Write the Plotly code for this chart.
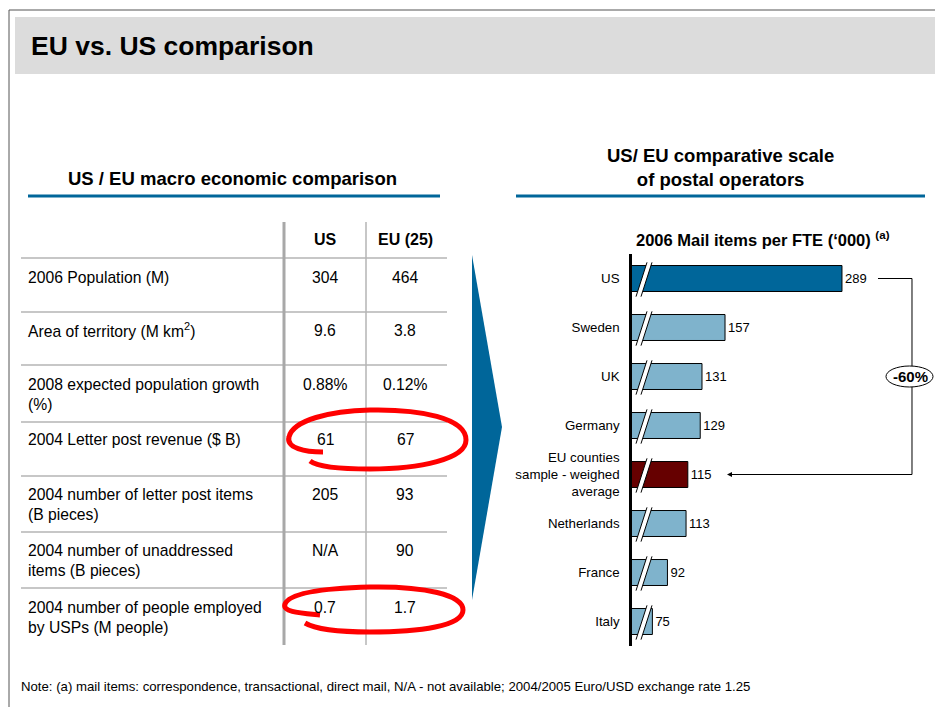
import plotly.graph_objects as go

W, H = 935, 707

# ---------------- data ----------------
table_header = ["US", "EU (25)"]
table_rows = [
    "2006 Population (M)",
    "Area of territory (M km<sup>2</sup>)",
    "2008 expected population growth<br>(%)",
    "2004 Letter post revenue ($ B)",
    "2004 number of letter post items<br>(B pieces)",
    "2004 number of unaddressed<br>items (B pieces)",
    "2004 number of people employed<br>by USPs (M people)",
]
us_vals = ["304", "9.6", "0.88%", "61", "205", "N/A", "0.7"]
eu_vals = ["464", "3.8", "0.12%", "67", "93", "90", "1.7"]

bar_categories = ["US", "Sweden", "UK", "Germany",
                  "EU counties<br>sample - weighed<br>average",
                  "Netherlands", "France", "Italy"]
bar_values = [289, 157, 131, 129, 115, 113, 92, 75]
bar_colors = ["#00669a", "#7fb3cc", "#7fb3cc", "#7fb3cc", "#660000",
              "#7fb3cc", "#7fb3cc", "#7fb3cc"]
change_label = "-60%"

FONT = "Arial, Liberation Sans, sans-serif"
BLUE = "#00669a"


def X(px):
    return px / W


def Y(py):
    return 1 - py / H


fig = go.Figure()

fig.add_trace(go.Bar(
    y=list(range(len(bar_categories))),
    x=bar_values,
    orientation="h",
    marker=dict(color=bar_colors, line=dict(color="black", width=1)),
    text=[str(v) for v in bar_values],
    textposition="outside",
    textfont=dict(size=13, color="black", family=FONT),
    cliponaxis=False,
    hoverinfo="skip",
))

shapes = []
annotations = []

# frame
shapes.append(dict(type="line", xref="paper", yref="paper", x0=X(9), x1=X(9), y0=Y(10), y1=Y(707),
                   line=dict(color="#555555", width=1)))
shapes.append(dict(type="line", xref="paper", yref="paper", x0=X(9), x1=X(935), y0=Y(10), y1=Y(10),
                   line=dict(color="#555555", width=1)))
# title bar
shapes.append(dict(type="rect", xref="paper", yref="paper", x0=X(15), x1=X(935), y0=Y(74), y1=Y(17),
                   fillcolor="#dcdcdc", line=dict(width=0), layer="below"))
annotations.append(dict(text="<b>EU vs. US comparison</b>", xref="paper", yref="paper", x=X(29), y=Y(46),
                        xanchor="left", yanchor="middle", showarrow=False,
                        font=dict(size=26.5, color="black", family=FONT)))

# section headings
annotations.append(dict(text="<b>US / EU macro economic comparison</b>", xref="paper", yref="paper",
                        x=X(232), y=Y(178), xanchor="center", yanchor="middle", showarrow=False,
                        font=dict(size=18.5, color="black", family=FONT)))
annotations.append(dict(text="<b>US/ EU comparative scale<br>of postal operators</b>", xref="paper", yref="paper",
                        x=X(720), y=Y(167), xanchor="center", yanchor="middle", showarrow=False,
                        font=dict(size=18.5, color="black", family=FONT)))
for x0, x1 in [(28, 440), (516, 925)]:
    shapes.append(dict(type="line", xref="paper", yref="paper", x0=X(x0), x1=X(x1), y0=Y(196), y1=Y(196),
                       line=dict(color=BLUE, width=3)))

# table grid
for yy in [258, 312, 365, 422, 476, 532, 588]:
    shapes.append(dict(type="line", xref="paper", yref="paper", x0=X(21), x1=X(447), y0=Y(yy), y1=Y(yy),
                       line=dict(color="#b4b4b4", width=1.5)))
shapes.append(dict(type="line", xref="paper", yref="paper", x0=X(284), x1=X(284), y0=Y(222), y1=Y(645),
                   line=dict(color="#a8a8a8", width=3)))
shapes.append(dict(type="line", xref="paper", yref="paper", x0=X(366), x1=X(366), y0=Y(222), y1=Y(645),
                   line=dict(color="#b4b4b4", width=1.5)))

# table text
col_x = [325, 405]
for cx, h in zip(col_x, table_header):
    annotations.append(dict(text="<b>%s</b>" % h, xref="paper", yref="paper", x=X(cx), y=Y(240),
                            xanchor="center", yanchor="middle", showarrow=False,
                            font=dict(size=16, color="black", family=FONT)))
row_first_line = [277, 330, 384, 440, 494, 550, 607]
for i, lab in enumerate(table_rows):
    y0 = row_first_line[i]
    two = "<br>" in lab
    annotations.append(dict(text=lab, xref="paper", yref="paper", x=X(26),
                            y=Y(y0 + 10 if two else y0), xanchor="left", yanchor="middle",
                            showarrow=False, align="left",
                            font=dict(size=15.7, color="black", family=FONT)))
    for cx, v in zip(col_x, [us_vals[i], eu_vals[i]]):
        annotations.append(dict(text=v, xref="paper", yref="paper", x=X(cx), y=Y(y0),
                                xanchor="center", yanchor="middle", showarrow=False,
                                font=dict(size=15.7, color="black", family=FONT)))


def path_px(cmds):
    out = []
    for c in cmds:
        if isinstance(c, str):
            out.append(c)
        else:
            out.append("%.5f,%.5f" % (X(c[0]), Y(c[1])))
    return " ".join(out)


# red hand-drawn ellipses
red1 = path_px(["M", (323, 452), "C", (305, 452), (286, 448), (289, 437), "C", (293, 420), (330, 411), (370, 410),
                "C", (420, 409), (466, 418), (466, 440), "C", (466, 459), (420, 469), (370, 469),
                "C", (340, 469), (318, 467), (310, 461)])
red2 = path_px(["M", (320, 615), "C", (300, 613), (282, 612), (285, 604), "C", (290, 592), (330, 588), (370, 587),
                "C", (425, 586), (463, 595), (463, 610), "C", (463, 626), (420, 632), (370, 632),
                "C", (340, 632), (315, 629), (305, 623)])
for p in [red1, red2]:
    shapes.append(dict(type="path", xref="paper", yref="paper", path=p,
                       line=dict(color="#ff0000", width=5)))

# chevron
shapes.append(dict(type="path", xref="paper", yref="paper",
                   path=path_px(["M", (472, 255), "L", (502, 427), "L", (472, 600), "Z"]),
                   fillcolor=BLUE, line=dict(width=0)))

# chart title
annotations.append(dict(text="<b>2006 Mail items per FTE (\u2018000) <sup>(a)</sup></b>", xref="paper", yref="paper",
                        x=X(763), y=Y(239), xanchor="center", yanchor="middle", showarrow=False,
                        font=dict(size=16.5, color="black", family=FONT)))

# axis break marks on each bar
k = 0.886  # px per unit
for i in range(len(bar_values)):
    xb, xt = 52 + 4 / k, 52 + 15 / k
    w = 5 / k
    yb, yt = i + 0.37, i - 0.33
    shapes.append(dict(type="path", xref="x", yref="y",
                       path="M %f,%f L %f,%f L %f,%f L %f,%f Z" % (xb, yb, xt, yt, xt + w, yt, xb + w, yb),
                       fillcolor="white", line=dict(width=0)))
    for off in [0, w]:
        shapes.append(dict(type="line", xref="x", yref="y", x0=xb + off, x1=xt + off, y0=yb, y1=yt,
                           line=dict(color="black", width=1)))

# bracket with arrow
shapes.append(dict(type="path", xref="paper", yref="y",
                   path="M %f,0 L %f,0 L %f,4 L %f,4" % (X(878), X(912), X(912), X(735)),
                   line=dict(color="black", width=1)))
annotations.append(dict(text="", xref="paper", yref="y", x=X(727), y=4, ax=15, ay=0,
                        showarrow=True, arrowhead=2, arrowsize=1, arrowwidth=1, arrowcolor="black"))
shapes.append(dict(type="circle", xref="paper", yref="paper", x0=X(886), x1=X(933), y0=Y(387), y1=Y(366),
                   fillcolor="white", line=dict(color="black", width=1)))
annotations.append(dict(text="<b>%s</b>" % change_label, xref="paper", yref="paper", x=X(910), y=Y(376.5),
                        xanchor="center", yanchor="middle", showarrow=False,
                        font=dict(size=15, color="black", family=FONT)))

# note
annotations.append(dict(text="Note: (a) mail items: correspondence, transactional, direct mail, N/A - not available; "
                             "2004/2005 Euro/USD exchange rate 1.25",
                        xref="paper", yref="paper", x=X(19), y=Y(686), xanchor="left", yanchor="middle",
                        showarrow=False, font=dict(size=13.2, color="black", family=FONT)))

fig.update_layout(
    width=W, height=H,
    margin=dict(l=0, r=0, t=0, b=0),
    paper_bgcolor="white", plot_bgcolor="rgba(0,0,0,0)",
    showlegend=False,
    bargap=0.47,
    font=dict(family=FONT, color="black"),
    xaxis=dict(domain=[X(632), X(900)], range=[52, 52 + 268 / k], visible=False, fixedrange=True),
    yaxis=dict(domain=[Y(646), Y(254)], range=[7.5, -0.5],
               tickmode="array", tickvals=list(range(len(bar_categories))), ticktext=bar_categories,
               showline=True, linecolor="black", linewidth=2.5, ticks="", showgrid=False, zeroline=False,
               ticklabelstandoff=7, tickfont=dict(size=13.3, color="black", family=FONT), fixedrange=True),
    shapes=shapes,
    annotations=annotations,
)

fig.write_html("out.html", config={"displayModeBar": False},
               post_script="document.body.style.margin='0';document.body.style.overflow='hidden';")
